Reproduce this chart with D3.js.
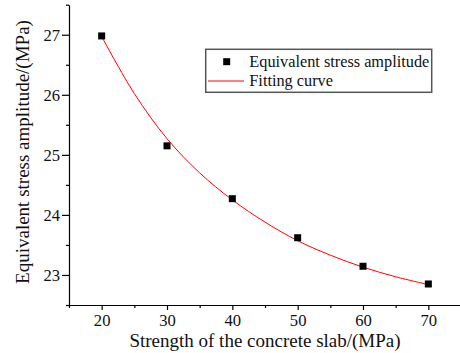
<!DOCTYPE html>
<html>
<head>
<meta charset="utf-8">
<script src="https://cdn.jsdelivr.net/npm/d3@7"></script>
<style>
  html, body { margin: 0; padding: 0; background: #fff; }
  svg { display: block; }
</style>
</head>
<body>
<svg id="chart" width="460" height="353"></svg>
<script>
// Concrete slab strength (MPa) and measured equivalent stress amplitude (MPa)
const strength = [20, 30, 40, 50, 60, 70];
const stressAmplitude = [26.98, 25.15, 24.27, 23.62, 23.145, 22.85];

// Fitted curve sampled along the strength axis
const fitStrength = [20, 25, 30, 35, 40, 45, 50, 55, 60, 65, 70];
const fitStress = [26.97, 26.02, 25.27, 24.70, 24.25, 23.88, 23.57, 23.33, 23.13, 22.97, 22.84];

const xTicks = [20, 30, 40, 50, 60, 70];
const yTicks = [23, 24, 25, 26, 27];

const SERIF = "'Liberation Serif', 'Times New Roman', serif";

const svg = d3.select("#chart");
const margin = { left: 69, right: -1, top: 4.7, bottom: 48 };
const W = 460, H = 353;

const x = d3.scaleLinear().domain([15, 75]).range([margin.left, W - margin.right]);
const y = d3.scaleLinear().domain([22.5, 27.5]).range([H - margin.bottom, margin.top]);

// Minor ticks between the labelled ones
const xMinor = d3.range(15, 76, 5).filter(v => !xTicks.includes(v));
const yMinor = d3.range(22.5, 27.6, 0.5).filter(v => !yTicks.includes(v));

svg.append("g").attr("transform", `translate(0,${y(22.5)})`)
  .call(d3.axisBottom(x).tickValues(xMinor).tickSize(3).tickFormat(""))
  .call(g => g.select(".domain").remove());
svg.append("g").attr("transform", `translate(0,${y(22.5)})`)
  .call(d3.axisBottom(x).tickValues(xTicks).tickFormat(d3.format("d"))
    .tickSize(5).tickPadding(4).tickSizeOuter(0));

svg.append("g").attr("transform", `translate(${x(15)},0)`)
  .call(d3.axisLeft(y).tickValues(yMinor).tickSize(3).tickFormat(""))
  .call(g => g.select(".domain").remove());
svg.append("g").attr("transform", `translate(${x(15)},0)`)
  .call(d3.axisLeft(y).tickValues(yTicks).tickFormat(d3.format("d"))
    .tickSize(7).tickPadding(2).tickSizeOuter(0));

svg.selectAll("g").attr("font-family", null);
svg.selectAll(".domain, .tick line").attr("stroke", "#000").attr("stroke-width", 1.2);
svg.selectAll(".tick text")
  .style("font-family", SERIF)
  .style("font-size", "16.6px")
  .style("fill", "#111");

// Fitting curve
const line = d3.line()
  .x((d, i) => x(fitStrength[i]))
  .y(d => y(d))
  .curve(d3.curveCatmullRom);
svg.append("path")
  .datum(fitStress)
  .attr("d", line)
  .attr("fill", "none")
  .attr("stroke", "#ff0000")
  .attr("stroke-width", 1);

// Data points
const sq = 7;
svg.selectAll("rect.pt")
  .data(stressAmplitude)
  .join("rect")
  .attr("class", "pt")
  .attr("x", (d, i) => x(strength[i]) - sq / 2)
  .attr("y", d => y(d) - sq / 2)
  .attr("width", sq).attr("height", sq)
  .attr("fill", "#000");

function label(sel, size) {
  return sel.style("font-family", SERIF).style("font-size", size + "px").style("fill", "#111");
}

// Axis titles
label(svg.append("text"), 19)
  .attr("x", (x(15) + x(75)) / 2)
  .attr("y", 346.5)
  .attr("text-anchor", "middle")
  .text("Strength of the concrete slab/(MPa)");

label(svg.append("text"), 19)
  .attr("transform", `translate(28.5,152) rotate(-90)`)
  .attr("text-anchor", "middle")
  .text("Equivalent stress amplitude/(MPa)");

// Legend
const lg = svg.append("g");
lg.append("rect")
  .attr("x", 205.7).attr("y", 49.3)
  .attr("width", 226).attr("height", 43)
  .attr("fill", "#fff")
  .attr("stroke", "#555").attr("stroke-width", 1.5);
lg.append("rect")
  .attr("x", 226.7 - 3.5).attr("y", 61.7 - 3.5)
  .attr("width", sq).attr("height", sq).attr("fill", "#000");
lg.append("line")
  .attr("x1", 208).attr("x2", 244).attr("y1", 81).attr("y2", 81)
  .attr("stroke", "#ff0000").attr("stroke-width", 1);
label(lg.append("text"), 16.3)
  .attr("x", 249.3).attr("y", 67)
  .text("Equivalent stress amplitude");
label(lg.append("text"), 16.3)
  .attr("x", 249.3).attr("y", 86)
  .text("Fitting curve");
</script>
</body>
</html>
